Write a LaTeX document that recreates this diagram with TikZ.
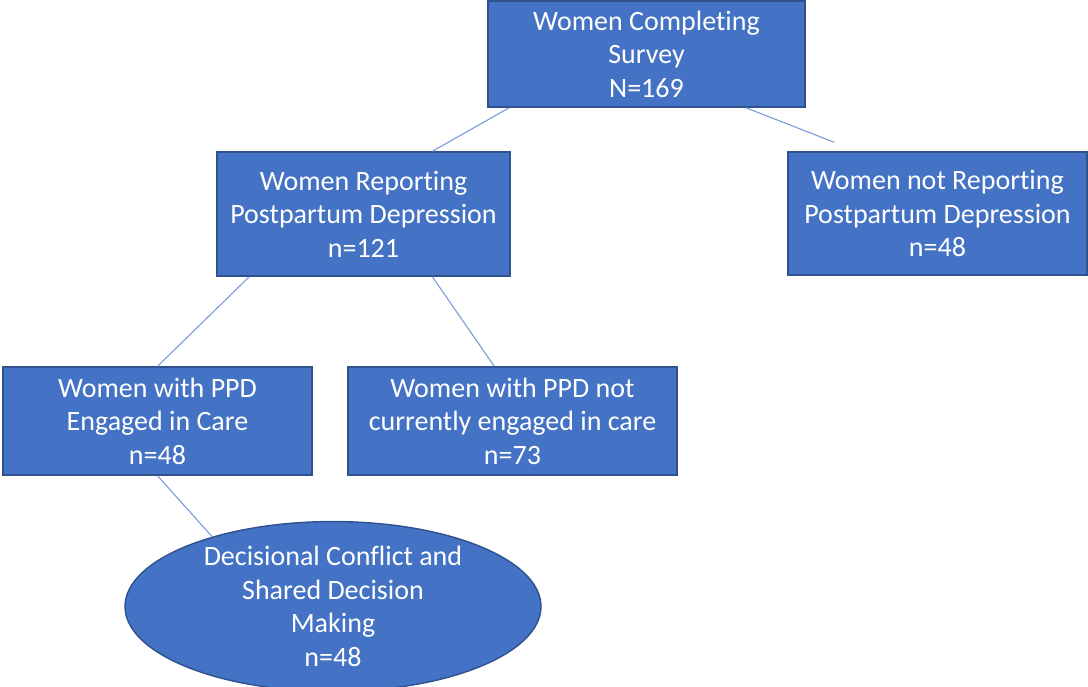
\documentclass[tikz,border=0pt]{standalone}
\usepackage{fontspec}
\setmainfont{Carlito}[Ligatures=NoCommon]
\usetikzlibrary{shapes.geometric, calc}
\definecolor{cfill}{HTML}{4472C4}
\definecolor{cedge}{HTML}{2F528F}
\definecolor{cline}{HTML}{7A9BDA}
\tikzset{
  every picture/.style={x=1pt, y=-1pt},
  box/.style={draw=cedge, fill=cfill, line width=1.4pt, text=white, align=center, inner sep=0pt,
    font=\fontsize{28}{33.5}\selectfont},
  oval/.style={box, ellipse},
  link/.style={draw=cline, line width=1.1pt},
}

\begin{document}
\begin{tikzpicture}
  \useasboundingbox (0,0) rectangle (1088,687);
  % boxes
  \node[box, minimum width=317pt, minimum height=106pt] (survey) at (646.5,54) {Women Completing\\Survey\\N=169};
  \node[box, minimum width=293pt, minimum height=124pt] (report) at (363.5,214) {Women Reporting\\Postpartum Depression\\n=121};
  \node[box, minimum width=299pt, minimum height=123pt] (notrep) at (937.5,213.5) {Women not Reporting\\Postpartum Depression\\n=48};
  \node[box, minimum width=309pt, minimum height=108pt] (engaged) at (157.5,421) {Women with PPD\\Engaged in Care\\n=48};
  \node[box, minimum width=329pt, minimum height=108pt] (notcare) at (512.5,421) {Women with PPD not\\currently engaged in care\\n=73};
  \node[oval, minimum width=416pt, minimum height=159pt] (dcsdm) at (333,606.5) {Decisional Conflict and\\Shared Decision\\Making\\n=48};
  % connectors
  \coordinate (rightend) at ([shift={(47pt,9pt)}]notrep.north west);
  \draw[link] ([xshift=22pt]survey.south west) -- ([xshift=216pt]report.north west);
  \draw[link] ([xshift=-60pt]survey.south east) -- (rightend);
  \draw[link] ([xshift=33pt]report.south west) -- (engaged.north);
  \draw[link] ([xshift=216pt]report.south west) -- ([xshift=147pt]notcare.north west);
  \draw[link] (engaged.south) -- (dcsdm.150);
\end{tikzpicture}
\end{document}
